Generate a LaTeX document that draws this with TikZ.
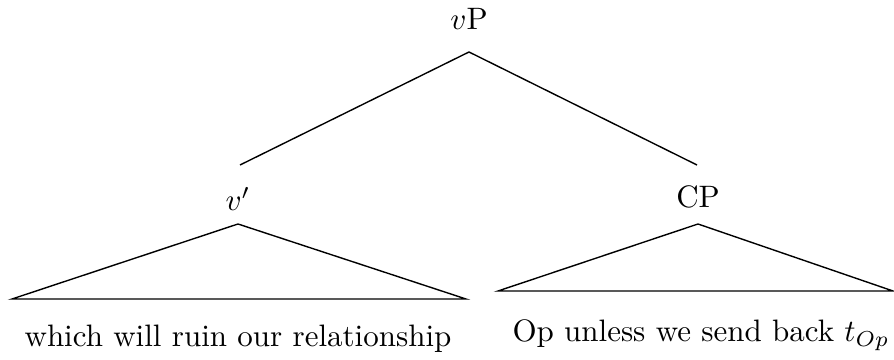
\documentclass[tikz,border=0pt]{standalone}
\usetikzlibrary{positioning, calc}

\begin{document}
\begin{tikzpicture}[
    x=0.3226pt, y=-0.3226pt,
    % Define styles for the tree parts
    catnode/.style={anchor=base, inner sep=0pt},
    leafnode/.style={anchor=base, inner sep=0pt},
    branch/.style={line width=0.45pt},
    roof/.style={line width=0.45pt, line join=miter},
]
\useasboundingbox (0,0) rectangle (894,360);

% -------------------------
% Category Nodes
% -------------------------
\node (vp) [catnode] at (469,30) {$v$P};
\node (vbar) [catnode] at (238,211) {$v'$};
\node (cp) [catnode] at (698,208) {CP};

% Leaves under the roofs
\node (whichleaf) [leafnode] at (238,347) {which will ruin our relationship};
\node (opleaf) [leafnode] at (701,342) {Op unless we send back $t_{Op}$};

% -------------------------
% Branch Points
% -------------------------
\coordinate (vptop) at ($(vp.base)+(0,22)$);
\coordinate (vbarend) at (240,165);
\coordinate (cpend) at (697,165);

\coordinate (vbartop) at ($(vbar.base)+(0,13)$);
\coordinate (vbarleft) at (12,299);
\coordinate (vbarright) at (466,299);

\coordinate (cptop) at ($(cp.base)+(0,16)$);
\coordinate (cpleft) at (498,291);
\coordinate (cpright) at (893,291);

% -------------------------
% Branches
% -------------------------
\draw[branch] (vptop) -- (vbarend);
\draw[branch] (vptop) -- (cpend);

% Roofs over the phrases
\draw[roof] (vbartop) -- (vbarleft) -- (vbarright) -- cycle;
\draw[roof] (cptop) -- (cpleft) -- (cpright) -- cycle;

\end{tikzpicture}
\end{document}
